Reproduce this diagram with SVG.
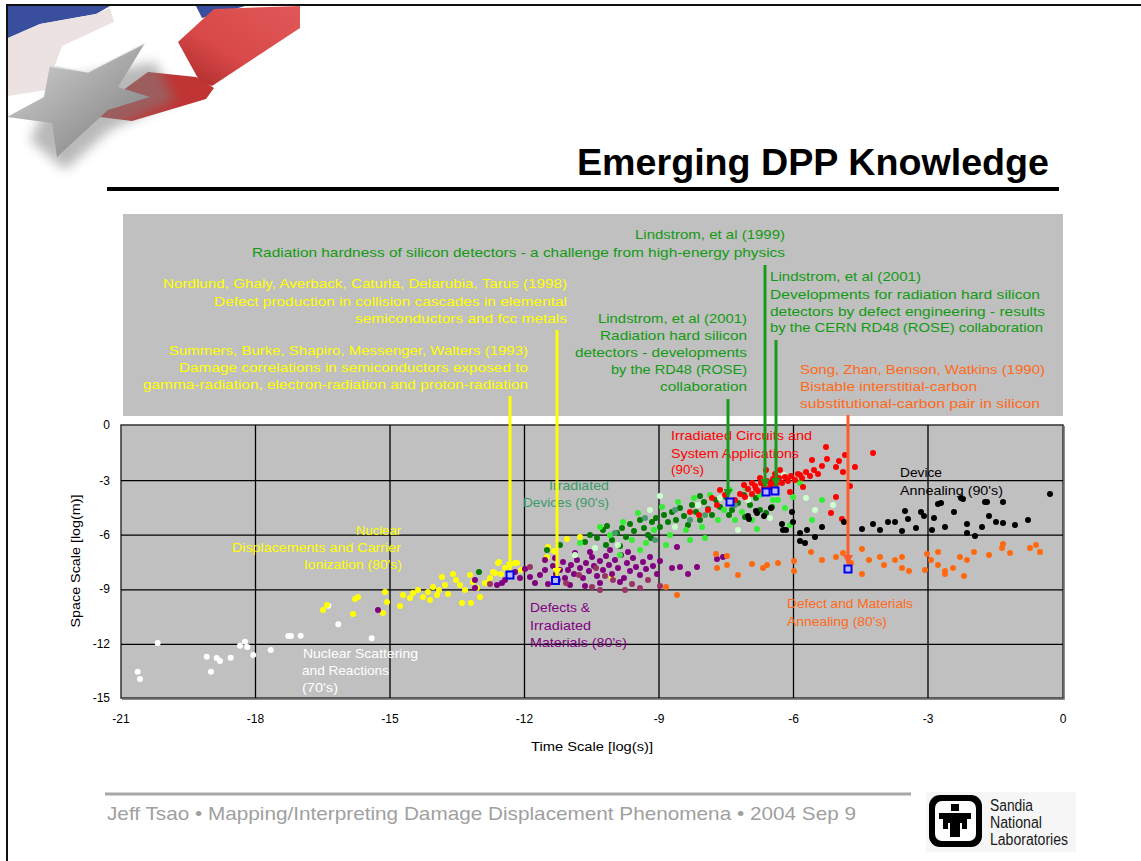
<svg xmlns="http://www.w3.org/2000/svg" width="1141" height="861" viewBox="0 0 1141 861">
<style>
.t{font-family:"Liberation Sans",Arial,Helvetica,sans-serif;font-size:13px}
.tk{font-family:"Liberation Sans",Arial,Helvetica,sans-serif;font-size:12px;fill:#000}
.gr{fill:#139a13}.ye{fill:#ffff00}.or{fill:#ff6a1a}.rd{fill:#ff0000}.pu{fill:#800080}.tl{fill:#3c9a6a}.wh{fill:#ffffff}.bk{fill:#000}
.grid{stroke:#000;stroke-width:1.3;fill:none}
.dots{fill:none;stroke-linecap:round;stroke-width:6}
.mk{fill:#b8b8ff;stroke:#0000ee;stroke-width:2}
.arr{fill:none;stroke-width:3}
</style>
<defs>
<marker id="ay" viewBox="0 0 10 10" refX="9" refY="5" markerUnits="userSpaceOnUse" markerWidth="9" markerHeight="9" orient="auto"><path d="M0,0L10,5L0,10z" fill="#ffff00"/></marker>
<marker id="ag" viewBox="0 0 10 10" refX="9" refY="5" markerUnits="userSpaceOnUse" markerWidth="9" markerHeight="9" orient="auto"><path d="M0,0L10,5L0,10z" fill="#1a9a1a"/></marker>
<marker id="ao" viewBox="0 0 10 10" refX="9" refY="5" markerUnits="userSpaceOnUse" markerWidth="10" markerHeight="10" orient="auto"><path d="M0,0L10,5L0,10z" fill="#ff5a2a"/></marker>
<linearGradient id="starg" x1="0" y1="0" x2="1" y2="1"><stop offset="0" stop-color="#d8d8d8"/><stop offset="0.5" stop-color="#a8a8a8"/><stop offset="1" stop-color="#7a7a7a"/></linearGradient>
<linearGradient id="redg" x1="0" y1="1" x2="1" y2="0"><stop offset="0" stop-color="#a82828"/><stop offset="0.4" stop-color="#d84848"/><stop offset="1" stop-color="#e05858"/></linearGradient>
<filter id="blur" x="-30%" y="-30%" width="160%" height="160%"><feGaussianBlur stdDeviation="6"/></filter>
</defs>
<rect width="1141" height="861" fill="#ffffff"/>
<g id="logo-star">
<polygon points="8,6 110,6 96,14 40,24 8,38" fill="#3a4e9e"/>
<polygon points="196,6 245,6 218,14 202,18" fill="#3a4e9e"/>
<polygon points="8,38 40,24 96,14 110,8 114,22 62,46 46,90 8,96" fill="#ece2e2"/>
<polygon points="178,42 214,9 300,6 300,28 212,86 200,82" fill="url(#redg)"/>
<polygon points="148,72 196,77 214,88 206,99 132,121 92,116 104,104" fill="#c03434"/>
<polygon points="60,80 155,62 175,100 110,130 65,170 30,140" fill="#808080" opacity="0.55" filter="url(#blur)"/>
<polygon points="50,65 88,72 145,43 118,87 150,97 108,110 57,157 52,123 7,117 44,97" fill="url(#starg)"/>
<path d="M50,66 L88,72 L145,43" fill="none" stroke="#f0f0f0" stroke-width="1.5" opacity="0.8"/>
</g>
<path d="M7,861V5H1141" fill="none" stroke="#111" stroke-width="2"/>
<g id="title">
<text x="577" y="175" font-family="Liberation Sans,Arial,Helvetica,sans-serif" font-size="36" font-weight="bold" textLength="472" lengthAdjust="spacingAndGlyphs" fill="#000">Emerging DPP Knowledge</text>
<rect x="107" y="187" width="952" height="4" fill="#000"/>
</g>
<rect id="annotation-panel" x="123" y="214" width="940" height="202" fill="#c0c0c0"/>
<g id="plot">
<rect x="121" y="425" width="942" height="273" fill="#c0c0c0" stroke="#333" stroke-width="1.5"/>
<path class="grid" d="M255.5,425V698M390,425V698M524.5,425V698M659,425V698M793.5,425V698M928,425V698M121,480.6H1063M121,535.2H1063M121,589.8H1063M121,644.4H1063"/>
<path d="M1064,426V699H122" fill="none" stroke="#666" stroke-width="1.5"/>
</g>
<g id="axes" class="tk">
<text x="110" y="429" text-anchor="end">0</text>
<text x="110" y="485" text-anchor="end">-3</text>
<text x="110" y="539" text-anchor="end">-6</text>
<text x="110" y="593" text-anchor="end">-9</text>
<text x="110" y="648" text-anchor="end">-12</text>
<text x="110" y="702" text-anchor="end">-15</text>
<text x="121" y="723" text-anchor="middle">-21</text>
<text x="255.5" y="723" text-anchor="middle">-18</text>
<text x="390" y="723" text-anchor="middle">-15</text>
<text x="524.5" y="723" text-anchor="middle">-12</text>
<text x="659" y="723" text-anchor="middle">-9</text>
<text x="793.5" y="723" text-anchor="middle">-6</text>
<text x="928" y="723" text-anchor="middle">-3</text>
<text x="1063" y="723" text-anchor="middle">0</text>
<text x="592" y="751" text-anchor="middle" textLength="122" lengthAdjust="spacingAndGlyphs">Time Scale [log(s)]</text>
<text transform="translate(79.5,561) rotate(-90)" text-anchor="middle" textLength="133" lengthAdjust="spacingAndGlyphs">Space Scale [log(m)]</text>
</g>
<g id="data">
<path class="dots" stroke="#ffffff" d="M137.7,671.7h0M140,679h0M157.7,643h0M206.7,656.7h0M216.7,658h0M220,661h0M230.7,657.7h0M211,671.7h0M240,645.7h0M245,641.7h0M247.3,647h0M253.3,655h0M270.7,650h0M288.3,636h0M291,636h0M300.7,635.7h0M328.3,605.7h0M338.3,624.3h0M371.7,638.3h0"/>
<path class="dots" stroke="#ffff00" d="M323,610h0M327,605h0M355,599h0M358,597h0M353,614h0M383,613h0M387,602h0M385,592h0M400,606h0M403,595h0M413,593h0M418,590h0M423,597h0M428,592h0M433,587h0M437,595h0M439,590h0M442,577h0M453,574h0M456,580h0M460,585h0M462,603h0M471,603h0M473,582h0M480,597h0M485,583h0M490,578h0M493,572h0M499,562h0M505,568h0M517,563h0M470,575h0M498,563h0M495,573h0M515,563h0M548,547h0M567,539h0M580,537h0M547,557h0M612,578h0M487,583h0M410,598h0M445,585h0M465,590h0M477,588h0M430,600h0M448,594h0M501,574h0M521,570h0M554,551h0"/>
<path class="dots" stroke-width="7" stroke="#800080" d="M378,610h0M475,580h0M475,588h0M497,585h0M502,583h0M505,580h0M520,578h0M530,577h0M535,583h0M540,575h0M545,570h0M548,584h0M553,566h0M556,574h0M560,570h0M563,562h0M565,578h0M568,570h0M571,565h0M574,574h0M577,560h0M580,568h0M583,578h0M586,563h0M589,571h0M592,557h0M594,566h0M597,576h0M600,561h0M603,570h0M606,556h0M609,565h0M612,574h0M615,560h0M618,568h0M621,555h0M624,578h0M627,563h0M630,571h0M633,558h0M636,567h0M640,575h0M643,562h0M646,569h0M650,557h0M653,566h0M657,574h0M620,582h0M600,583h0M585,586h0M570,585h0M660,561h0M628,552h0M610,550h0M590,552h0M575,553h0M555,558h0M545,560h0M672,568h0M680,567h0M688,574h0M697,567h0M717,559h0M723,557h0M677,547h0M515,572h0M525,569h0"/>
<path class="dots" stroke-width="7" stroke="#993366" d="M530,567h0M558,580h0M579,575h0M596,568h0M613,580h0M632,584h0M648,580h0M660,586h0M605,576h0M566,583h0M592,587h0M640,588h0M625,590h0M600,590h0M490,584h0"/>
<path class="dots" stroke="#007a00" d="M479,572h0M547,550h0M560,545h0M585,542h0M590,535h0M597,538h0M603,530h0M607,526h0M612,540h0M617,533h0M622,528h0M626,537h0M630,524h0M634,531h0M640,520h0M644,528h0M648,535h0M652,522h0M656,518h0M660,527h0M664,515h0M668,522h0M672,512h0M676,520h0M680,508h0M684,516h0M688,525h0M692,505h0M696,512h0M700,520h0M704,502h0M708,509h0M712,515h0M716,500h0M720,507h0M726,497h0M732,510h0M738,503h0M744,495h0M750,505h0M756,498h0M760,510h0M766,513h0M772,507h0M606,545h0M620,546h0M651,538h0M700,496h0M729,515h0M745,517h0"/>
<path class="dots" stroke="#33ee33" d="M580,543h0M600,527h0M610,535h0M623,522h0M632,540h0M638,513h0M646,543h0M654,530h0M662,507h0M670,535h0M678,502h0M686,530h0M694,498h0M702,527h0M710,495h0M718,520h0M724,510h0M735,520h0M742,512h0M752,520h0M760,495h0M770,485h0M778,500h0M785,508h0M800,483h0M793,497h0M773,500h0M822,500h0M812,520h0M690,540h0M666,545h0M640,550h0M620,555h0M705,538h0M730,490h0M746,488h0M790,525h0M757,529h0"/>
<path class="dots" stroke="#ccffcc" d="M595,548h0M618,545h0M650,510h0M675,527h0M698,505h0M720,498h0M738,530h0M748,500h0M770,518h0M806,498h0M575,555h0M660,496h0M784,475h0M815,510h0M833,505h0"/>
<path class="dots" stroke="#4a9a70" d="M615,533h0M645,518h0M675,510h0M705,515h0M735,505h0M655,540h0M690,520h0"/>
<path class="dots" stroke="#ff0000" d="M735,500h0M740,494h0M745,497h0M748,489h0M752,494h0M755,486h0M758,491h0M761,483h0M764,488h0M767,481h0M770,487h0M773,479h0M776,484h0M779,478h0M782,483h0M785,477h0M788,481h0M791,476h0M795,480h0M798,474h0M802,478h0M806,472h0M810,476h0M814,470h0M818,474h0M822,466h0M827,459h0M836,467h0M843,472h0M836,497h0M850,486h0M831,513h0M842,519h0M873,453h0M800,475h0M771,484h0M756,489h0M760,478h0M752,483h0M744,485h0M766,470h0M780,470h0M826,447h0M839,461h0M717,505h0M708,510h0M699,515h0M725,495h0M690,512h0M712,498h0M720,490h0M803,487h0M790,492h0M775,474h0M845,455h0M812,460h0M855,467h0"/>
<path class="dots" stroke="#000000" d="M1050,494h0M938,504h0M963,499h0M985,502h0M1003,502h0M905,511h0M921,512h0M895,522h0M908,519h0M924,516h0M934,518h0M916,528h0M945,527h0M967,524h0M989,516h0M996,522h0M1003,523h0M873,524h0M880,530h0M862,529h0M844,522h0M822,527h0M807,530h0M800,533h0M786,530h0M782,524h0M764,516h0M756,511h0M749,519h0M771,508h0M932,530h0M902,531h0M967,533h0M982,527h0M888,522h0M800,541h0M815,537h0M793,522h0M941,503h0M961,498h0M987,502h0M748,516h0M757,513h0M792,512h0M783,530h0M805,543h0M954,512h0M975,536h0M1015,525h0M1028,520h0"/>
<path class="dots" stroke="#ff6a10" d="M666,587h0M677,595h0M717,568h0M727,565h0M738,575h0M752,564h0M763,568h0M767,565h0M778,563h0M794,561h0M794,571h0M811,552h0M822,560h0M836,557h0M851,563h0M862,574h0M869,560h0M880,557h0M884,565h0M895,560h0M902,568h0M909,571h0M927,554h0M931,560h0M938,565h0M945,571h0M953,568h0M960,557h0M967,560h0M974,552h0M989,555h0M1002,548h0M1003,544h0M925,570h0M862,549h0M727,556h0M716,554h0M843,553h0M902,557h0M938,552h0M945,574h0M964,576h0M1010,553h0M1030,548h0M1036,545h0M1040,552h0"/>
</g>
<g id="plot-labels" class="t">
<text class="ye" x="401" y="535" text-anchor="end" textLength="45" lengthAdjust="spacingAndGlyphs">Nuclear</text>
<text class="ye" x="401" y="552" text-anchor="end" textLength="169" lengthAdjust="spacingAndGlyphs">Displacements and Carrier</text>
<text class="ye" x="402" y="569" text-anchor="end" textLength="98" lengthAdjust="spacingAndGlyphs">Ionization (80's)</text>
<text class="wh" x="303" y="657.5" textLength="115" lengthAdjust="spacingAndGlyphs">Nuclear Scattering</text>
<text class="wh" x="302" y="675" textLength="87" lengthAdjust="spacingAndGlyphs">and Reactions</text>
<text class="wh" x="302" y="692" textLength="36" lengthAdjust="spacingAndGlyphs">(70's)</text>
<text class="tl" x="609" y="489.5" text-anchor="end" textLength="60" lengthAdjust="spacingAndGlyphs">Irradiated</text>
<text class="tl" x="609" y="506.5" text-anchor="end" textLength="86" lengthAdjust="spacingAndGlyphs">Devices (90's)</text>
<text class="rd" x="671" y="440" textLength="141" lengthAdjust="spacingAndGlyphs">Irradiated Circuits and</text>
<text class="rd" x="671" y="457.5" textLength="128" lengthAdjust="spacingAndGlyphs">System Applications</text>
<text class="rd" x="671" y="474" textLength="33" lengthAdjust="spacingAndGlyphs">(90's)</text>
<text class="bk" x="900" y="477" textLength="42" lengthAdjust="spacingAndGlyphs">Device</text>
<text class="bk" x="900" y="494.5" textLength="103" lengthAdjust="spacingAndGlyphs">Annealing (90's)</text>
<text class="pu" x="530" y="612" textLength="60" lengthAdjust="spacingAndGlyphs">Defects &amp;</text>
<text class="pu" x="530" y="629.5" textLength="61" lengthAdjust="spacingAndGlyphs">Irradiated</text>
<text class="pu" x="530" y="646.5" textLength="97" lengthAdjust="spacingAndGlyphs">Materials (80's)</text>
<text class="or" x="787" y="607.5" textLength="126" lengthAdjust="spacingAndGlyphs">Defect and Materials</text>
<text class="or" x="787" y="625.5" textLength="100" lengthAdjust="spacingAndGlyphs">Annealing (80's)</text>
</g>
<g id="ref-lindstrom-1999" class="t gr">
<text x="785" y="239" text-anchor="end" textLength="150" lengthAdjust="spacingAndGlyphs">Lindstrom, et al (1999)</text>
<text x="785" y="256.5" text-anchor="end" textLength="533" lengthAdjust="spacingAndGlyphs">Radiation hardness of silicon detectors - a challenge from high-energy physics</text>
</g>
<g id="ref-nordlund-1998" class="t ye">
<text x="567" y="288" text-anchor="end" textLength="404" lengthAdjust="spacingAndGlyphs">Nordlund, Ghaly, Averback, Caturla, Delarubia, Tarus (1998)</text>
<text x="567" y="305.5" text-anchor="end" textLength="353" lengthAdjust="spacingAndGlyphs">Defect production in collision cascades in elemental</text>
<text x="567" y="322.5" text-anchor="end" textLength="212" lengthAdjust="spacingAndGlyphs">semiconductors and fcc metals</text>
</g>
<g id="ref-summers-1993" class="t ye">
<text x="528" y="354.5" text-anchor="end" textLength="359" lengthAdjust="spacingAndGlyphs">Summers, Burke, Shapiro, Messenger, Walters (1993)</text>
<text x="528" y="371.5" text-anchor="end" textLength="349" lengthAdjust="spacingAndGlyphs">Damage correlations in semiconductors exposed to</text>
<text x="528" y="388.5" text-anchor="end" textLength="385" lengthAdjust="spacingAndGlyphs">gamma-radiation, electron-radiation and proton-radiation</text>
</g>
<g id="ref-lindstrom-2001a" class="t gr">
<text x="747" y="322.5" text-anchor="end" textLength="149" lengthAdjust="spacingAndGlyphs">Lindstrom, et al (2001)</text>
<text x="747" y="339.5" text-anchor="end" textLength="147" lengthAdjust="spacingAndGlyphs">Radiation hard silicon</text>
<text x="747" y="356.5" text-anchor="end" textLength="172" lengthAdjust="spacingAndGlyphs">detectors - developments</text>
<text x="747" y="373.5" text-anchor="end" textLength="136" lengthAdjust="spacingAndGlyphs">by the RD48 (ROSE)</text>
<text x="747" y="390.5" text-anchor="end" textLength="87" lengthAdjust="spacingAndGlyphs">collaboration</text>
</g>
<g id="ref-lindstrom-2001b" class="t gr">
<text x="770" y="281" textLength="151" lengthAdjust="spacingAndGlyphs">Lindstrom, et al (2001)</text>
<text x="770" y="298.5" textLength="270" lengthAdjust="spacingAndGlyphs">Developments for radiation hard silicon</text>
<text x="770" y="315.5" textLength="275" lengthAdjust="spacingAndGlyphs">detectors by defect engineering - results</text>
<text x="770" y="331.5" textLength="273" lengthAdjust="spacingAndGlyphs">by the CERN RD48 (ROSE) collaboration</text>
</g>
<g id="ref-song-1990" class="t or">
<text x="800" y="373.5" textLength="245" lengthAdjust="spacingAndGlyphs">Song, Zhan, Benson, Watkins (1990)</text>
<text x="800" y="391" textLength="177" lengthAdjust="spacingAndGlyphs">Bistable interstitial-carbon</text>
<text x="800" y="408" textLength="240" lengthAdjust="spacingAndGlyphs">substitutional-carbon pair in silicon</text>
</g>
<g id="connectors">
<line class="arr" stroke="#ffff00" x1="510" y1="396" x2="510" y2="570" marker-end="url(#ay)"/>
<line class="arr" stroke="#ffff00" x1="557" y1="330" x2="557" y2="576" marker-end="url(#ay)"/>
<line class="arr" stroke="#1a9a1a" x1="728" y1="399" x2="728" y2="497" marker-end="url(#ag)"/>
<line class="arr" stroke="#1a9a1a" x1="765" y1="265" x2="765" y2="487" marker-end="url(#ag)"/>
<line class="arr" stroke="#1a9a1a" x1="776" y1="340" x2="776" y2="486" marker-end="url(#ag)"/>
<line class="arr" stroke="#ff5a2a" stroke-width="4" x1="848" y1="415" x2="848" y2="564" marker-end="url(#ao)"/>
</g>
<g id="markers">
<rect class="mk" x="506.5" y="571.5" width="7" height="7"/>
<rect class="mk" x="552" y="577" width="7" height="7"/>
<rect class="mk" x="726.5" y="498.5" width="7" height="7"/>
<rect class="mk" x="762.5" y="488.5" width="7" height="7"/>
<rect class="mk" x="771.5" y="487.5" width="7" height="7"/>
<rect class="mk" x="844.5" y="565.5" width="7" height="7"/>
</g>
<g id="footer">
<line x1="105" y1="794" x2="911" y2="794" stroke="#a8a8a8" stroke-width="3"/>
<text x="107" y="820" font-family="Liberation Sans Narrow,Liberation Sans,Arial,sans-serif" font-size="19" fill="#a0a0a0" textLength="749" lengthAdjust="spacingAndGlyphs">Jeff Tsao  •  Mapping/Interpreting Damage Displacement Phenomena  •  2004 Sep 9</text>
</g>
<g id="sandia-logo">
<rect x="926" y="792" width="150" height="60" fill="#f6f6f6"/>
<rect x="929" y="795" width="53" height="52" rx="11" fill="#000"/>
<rect x="935" y="801" width="41" height="40" rx="7" fill="#fff"/>
<path d="M951,804h8v7h-8z M939,813h32v6h-4v10h-5v-6h-2v14h-10v-14h-2v6h-5v-10h-4z" fill="#000"/>
<text font-family="Liberation Sans Narrow,Liberation Sans,Arial,sans-serif" font-size="16" fill="#1a1a1a">
<tspan x="990" y="811" textLength="43" lengthAdjust="spacingAndGlyphs">Sandia</tspan>
<tspan x="990" y="828" textLength="52" lengthAdjust="spacingAndGlyphs">National</tspan>
<tspan x="990" y="845" textLength="78" lengthAdjust="spacingAndGlyphs">Laboratories</tspan>
</text>
</g>
</svg>
